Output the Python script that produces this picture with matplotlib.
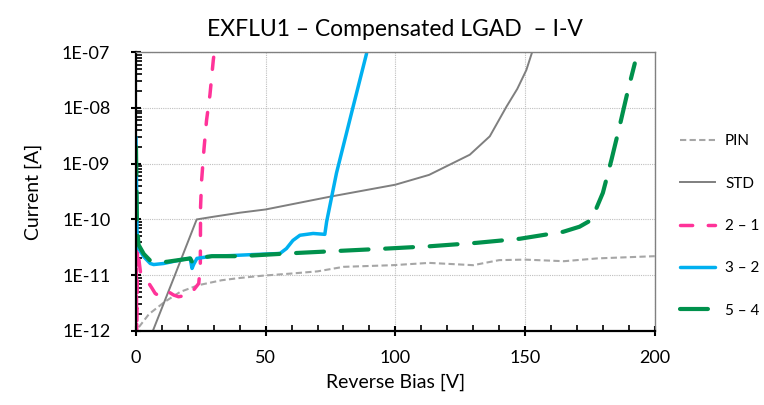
import math
import matplotlib
matplotlib.use("Agg")
import matplotlib.pyplot as plt
import matplotlib.ticker as ticker

plt.rcParams["font.family"] = ["Lato", "DejaVu Sans"]

# PIN
pin_v = [0, 1, 5, 11, 17, 24, 33, 40, 49, 60, 70, 80, 99, 113, 122, 130, 140, 150, 165, 178, 200]
pin_i = [8e-13, 1.15e-12, 2.0e-12, 3.3e-12, 5.0e-12, 6.6e-12, 8.1e-12, 8.9e-12, 9.8e-12,
         1.07e-11, 1.17e-11, 1.41e-11, 1.51e-11, 1.66e-11, 1.58e-11, 1.51e-11, 1.86e-11,
         1.9e-11, 1.78e-11, 2.0e-11, 2.19e-11]

# STD
std_v = [5, 6.5, 15, 23.4, 30, 40, 50, 75, 100, 113, 128.7, 136.4, 142.8, 147, 150.5, 153]
std_i = [5e-13, 1.0e-12, 1.0e-11, 1.0e-10, 1.12e-10, 1.32e-10, 1.51e-10, 2.57e-10, 4.2e-10,
         6.3e-10, 1.45e-9, 3.1e-9, 1.05e-8, 2.2e-8, 4.8e-8, 1.1e-7]

# 2 - 1
p21_v = [0, 0.3, 0.6, 1.7, 4.2, 6.2, 7.4, 9.4, 11.3, 12.6, 14.5, 16.4, 20.3, 22.2, 24.2,
         24.8, 24.9, 25.3, 26.2, 27.2, 28.5, 29.8, 30.2]
p21_i = [1.3e-10, 8e-13, 3e-11, 1.15e-11, 8.1e-12, 5.8e-12, 4.7e-12, 4.1e-12, 4.7e-12, 5.0e-12,
         4.4e-12, 4.1e-12, 4.4e-12, 5.4e-12, 7.1e-12, 1.5e-11, 1.7e-10, 5.0e-10, 1.8e-9,
         6.0e-9, 1.7e-8, 7.2e-8, 1.0e-7]

# 3 - 2
p32_v = [0, 0.2, 0.4, 1, 3, 5.5, 6.8, 10.7, 17.7, 20.9, 21.6, 22.3, 23.5, 29.3, 36.2, 45,
         55.5, 58, 60.5, 63.2, 68.3, 72.8, 73.5, 77.3, 83.7, 88.9]
p32_i = [3.0e-9, 5.0e-10, 6.0e-11, 3.0e-11, 2.14e-11, 1.62e-11, 1.55e-11, 1.62e-11, 1.9e-11,
         2.0e-11, 1.32e-11, 1.58e-11, 2.0e-11, 2.19e-11, 2.24e-11, 2.34e-11, 2.45e-11,
         3.0e-11, 4.2e-11, 5.2e-11, 5.6e-11, 5.4e-11, 9.1e-11, 6.8e-10, 1.05e-8, 9.5e-8]

# 5 - 4
p54_v = [0, 0.2, 0.4, 1, 3, 5.5, 8, 12, 17.7, 20.9, 21.6, 22.5, 24, 29.3, 40, 61.9, 80,
         96.6, 113.3, 131.3, 148, 164.7, 171, 175.6, 180, 183.3, 186.4, 189.7, 192.3]
p54_i = [2.0e-9, 3.2e-10, 7.1e-11, 3.5e-11, 2.4e-11, 1.82e-11, 1.7e-11, 1.74e-11, 1.9e-11,
         2.0e-11, 1.74e-11, 1.9e-11, 2.04e-11, 2.19e-11, 2.19e-11, 2.5e-11, 2.75e-11, 3.0e-11,
         3.3e-11, 3.8e-11, 4.5e-11, 6.0e-11, 7.4e-11, 9.8e-11, 3.0e-10, 1.17e-9, 4.6e-9,
         2.1e-8, 6.3e-8]

fig = plt.figure(figsize=(7.64, 4.05), dpi=100)
ax = fig.add_axes([0.178, 0.183, 0.679, 0.688])

ax.plot(pin_v, pin_i, color="#A6A6A6", lw=1.5, dashes=(3, 1.6), label="PIN")
ax.plot(std_v, std_i, color="#7F7F7F", lw=1.4, label="STD")
ax.plot(p21_v, p21_i, color="#FF3399", lw=2.5, dashes=(3.5, 4.5), dash_capstyle="round",
        label="2 – 1")
ax.plot(p32_v, p32_i, color="#00B0F0", lw=2.5, solid_capstyle="round", label="3 – 2")
ax.plot(p54_v, p54_i, color="#00914C", lw=3, dashes=(6.7, 4.0), dash_capstyle="round",
        label="5 – 4")

ax.set_yscale("log")
ax.set_xlim(0, 200)
ax.set_ylim(1e-12, 1e-7)
ax.set_xticks([0, 50, 100, 150, 200])
ax.xaxis.set_minor_locator(ticker.MultipleLocator(10))
ax.yaxis.set_major_locator(ticker.LogLocator(base=10, numticks=10))
ax.yaxis.set_minor_locator(ticker.LogLocator(base=10, subs=range(2, 10), numticks=10))
ax.yaxis.set_minor_formatter(ticker.NullFormatter())
ax.yaxis.set_major_formatter(
    ticker.FuncFormatter(lambda v, p: "1E-%02d" % round(-math.log10(v))))

ax.tick_params(which="major", direction="inout", length=7, width=1.5, labelsize=13)
ax.tick_params(axis="x", which="major", pad=10)
ax.tick_params(axis="y", which="major", pad=15)
ax.tick_params(which="minor", direction="in", length=4, width=1.2)
ax.grid(True, which="major", color="#BFBFBF", linestyle=(0, (1, 1)), lw=0.8)

for s in ["left", "bottom"]:
    ax.spines[s].set_linewidth(1.6)
    ax.spines[s].set_color("black")
for s in ["top", "right"]:
    ax.spines[s].set_linewidth(1.0)
    ax.spines[s].set_color("#808080")

ax.set_xlabel("Reverse Bias [V]", fontsize=14, labelpad=6)
ax.set_ylabel("Current [A]", fontsize=14, labelpad=14)
ax.set_title("EXFLU1 – Compensated LGAD  – I-V", fontsize=16.5, pad=12)

fig.legend(loc="center left", bbox_to_anchor=(0.89, 0.442), frameon=False, fontsize=11,
           handlelength=2.3, labelspacing=1.85, handletextpad=0.65,
           borderpad=0, borderaxespad=0)

fig.savefig("out.png", dpi=100)
